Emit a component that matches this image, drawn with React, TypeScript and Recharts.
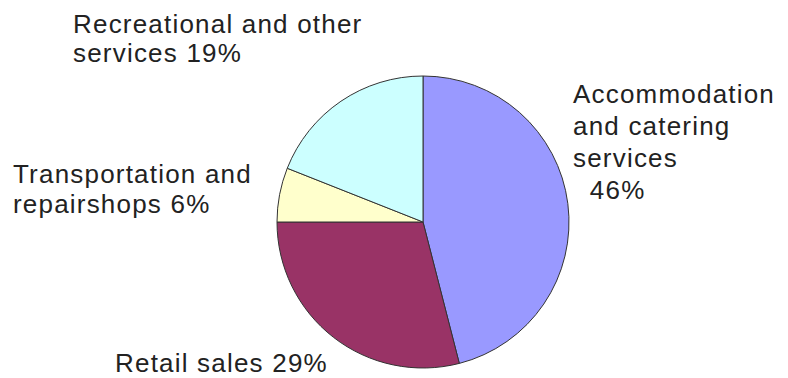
import { PieChart, Pie, Cell } from 'recharts';

const categories = [
  'Accommodation and catering services',
  'Retail sales',
  'Transportation and repairshops',
  'Recreational and other services',
];
const shares = [46, 29, 6, 19];
const colors = ['#9999FF', '#993366', '#FFFFCC', '#CCFFFF'];

// label text, one entry per line
const labelLines = [
  ['Accommodation', 'and catering', 'services', '  46%'],
  ['Retail sales 29%'],
  ['Transportation and', 'repairshops 6%'],
  ['Recreational and other', 'services 19%'],
];

// where each label block sits, relative to the pie centre
const labelOffsets = [
  { dx: 150, dy: -119, lh: 32 },
  { dx: -308, dy: 150, lh: 30 },
  { dx: -410, dy: -39, lh: 30 },
  { dx: -350, dy: -189, lh: 29 },
];

const data = categories.map((name, i) => ({ name, value: shares[i] }));

const renderLabel = ({ cx, cy, index }: any) => {
  const off = labelOffsets[index];
  return (
    <text
      x={cx + off.dx}
      y={cy + off.dy}
      fill="#222"
      fontSize={26}
      letterSpacing={1.2}
      fontFamily="'Liberation Sans', Arial, sans-serif"
      textAnchor="start"
      style={{ whiteSpace: 'pre' }}
    >
      {labelLines[index].map((line, j) => (
        <tspan key={j} x={cx + off.dx} y={cy + off.dy + j * off.lh}>
          {line}
        </tspan>
      ))}
    </text>
  );
};

export default function App() {
  return (
    <div style={{ position: 'absolute', left: 0, top: 0, width: 788, height: 378, background: '#fff' }}>
      <PieChart width={788} height={378} margin={{ top: 0, right: 0, bottom: 0, left: 0 }}>
        <Pie
          data={data}
          dataKey="value"
          cx={423}
          cy={222}
          outerRadius={146}
          startAngle={90}
          endAngle={-270}
          stroke="#333"
          strokeWidth={1}
          labelLine={false}
          label={renderLabel}
          isAnimationActive={false}
        >
          {data.map((entry, index) => (
            <Cell key={`cell-${index}`} fill={colors[index]} />
          ))}
        </Pie>
      </PieChart>
    </div>
  );
}
